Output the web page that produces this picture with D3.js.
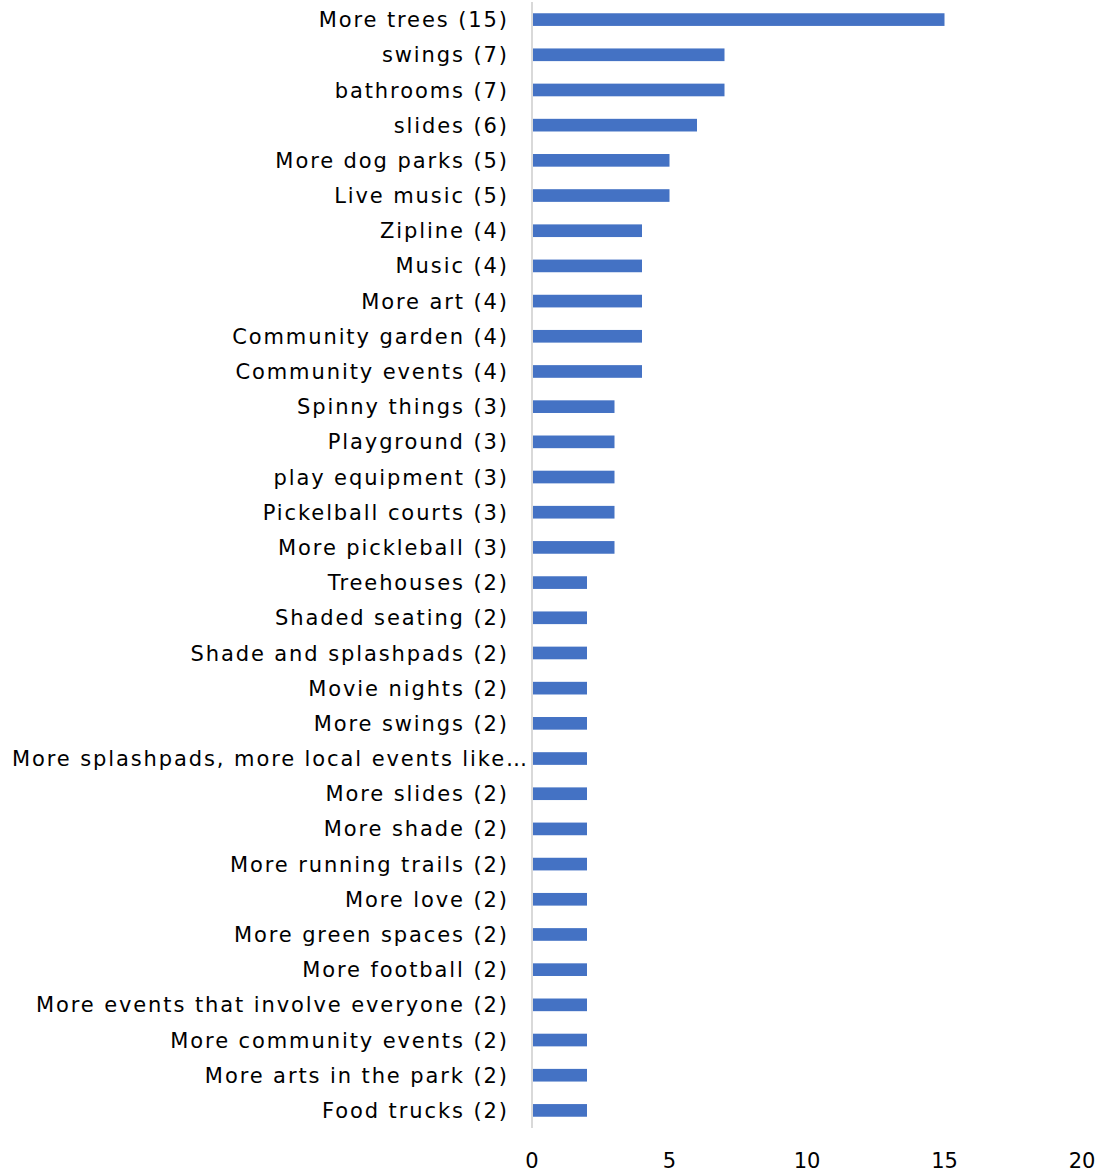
<!DOCTYPE html>
<html><head><meta charset="utf-8">
<script src="https://cdn.jsdelivr.net/npm/d3@7"></script>
<style>body{margin:0;background:#fff}svg{display:block}</style>
</head><body>
<svg id="c" width="1104" height="1174"></svg>
<script>
const categories = ["More trees (15)","swings (7)","bathrooms (7)","slides (6)","More dog parks (5)","Live music (5)","Zipline (4)","Music (4)","More art (4)","Community garden (4)","Community events (4)","Spinny things (3)","Playground (3)","play equipment (3)","Pickelball courts (3)","More pickleball (3)","Treehouses (2)","Shaded seating (2)","Shade and splashpads (2)","Movie nights (2)","More swings (2)","More splashpads, more local events like…","More slides (2)","More shade (2)","More running trails (2)","More love (2)","More green spaces (2)","More football (2)","More events that involve everyone (2)","More community events (2)","More arts in the park (2)","Food trucks (2)"];
const values = [15,7,7,6,5,5,4,4,4,4,4,3,3,3,3,3,2,2,2,2,2,2,2,2,2,2,2,2,2,2,2,2];
const ticks = [0,5,10,15,20];

const svg = d3.select("#c");
const font = "'DejaVu Sans', sans-serif";
const x = d3.scaleLinear().domain([0,20]).range([532,1082]);
const y = d3.scaleBand().domain(categories).range([2,1128]).paddingInner(0.64).paddingOuter(0.32);

svg.selectAll("rect.bar").data(categories).join("rect")
  .attr("class","bar")
  .attr("x", x(0)+1)
  .attr("y", d=>y(d))
  .attr("width", (d,i)=>x(values[i])-x(0)-1)
  .attr("height", y.bandwidth())
  .attr("fill","#4472c4");

svg.append("line").attr("x1",x(0)).attr("x2",x(0)).attr("y1",2).attr("y2",1128)
  .attr("stroke","#d9d9d9").attr("stroke-width",2);

const labels = svg.selectAll("text.cat").data(categories).join("text")
  .attr("class","cat")
  .attr("x", d=> d.endsWith("…") ? 527 : 507)
  .attr("y", d=>y(d)+y.bandwidth()/2)
  .attr("dy","0.36em")
  .attr("text-anchor","end")
  .attr("font-family",font).attr("font-size",21).attr("fill","#000")
  .text(d=>d);

// match the wide label spacing of the original
const longNode = labels.filter(d=>d.endsWith("…")).node();
const w0 = longNode.getComputedTextLength();
const n = categories[21].length;
const ls = Math.max(0,(517 - w0)/n);
labels.attr("letter-spacing", ls).attr("dx", ls);

svg.selectAll("text.tick").data(ticks).join("text")
  .attr("class","tick")
  .attr("x", d=>x(d)).attr("y",1160).attr("dy","0.36em")
  .attr("text-anchor","middle")
  .attr("font-family",font).attr("font-size",21).attr("fill","#000")
  .text(d=>d);
</script>
</body></html>
